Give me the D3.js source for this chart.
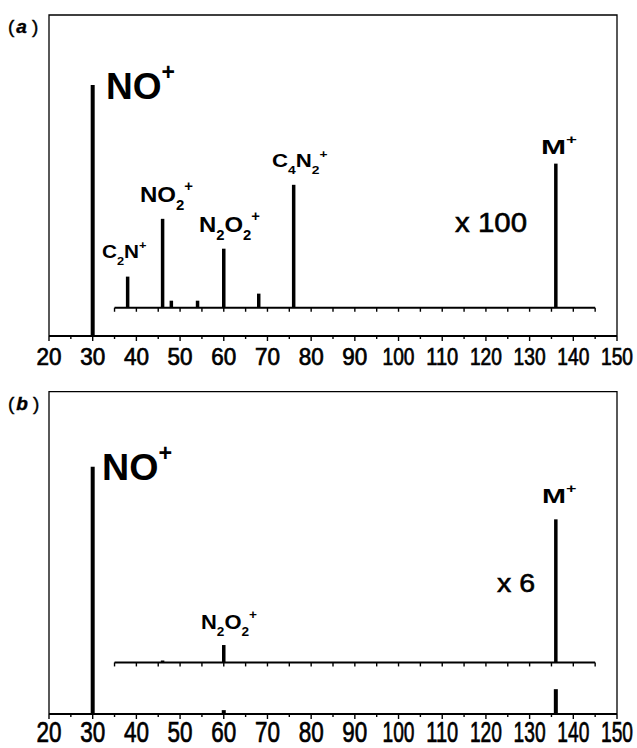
<!DOCTYPE html>
<html>
<head>
<meta charset="utf-8">
<script src="https://cdn.jsdelivr.net/npm/d3@7"></script>
<style>
body { margin: 0; background: #fff; }
text { font-family: "Liberation Sans", Arial, sans-serif; fill: #000; }
</style>
</head>
<body>
<div id="chart"></div>
<script>
// m/z axis
var xTicks = [20, 30, 40, 50, 60, 70, 80, 90, 100, 110, 120, 130, 140, 150];
var xMinor = d3.range(20, 151, 5);
var insetTicks = d3.range(35, 146, 5);

// panel (a) – full scale and x100 trace
var mainMzA = [30];
var mainIntA = [78.2];
var insetMzA = [38, 46, 48, 54, 60, 68, 76, 136];
var insetIntA = [9.7, 27.7, 2.2, 2.2, 18.4, 4.4, 38.3, 44.9];
var insetBaseA = 8.8;

// panel (b) – full scale and x6 trace
var mainMzB = [30, 60, 136];
var mainIntB = [76.7, 1.2, 7.7];
var insetMzB = [46, 60, 136];
var insetIntB = [0.6, 5.4, 44.4];
var insetBaseB = 16.0;

var labelsA = ["NO^+", "C_2N^+", "NO_2^+", "N_2O_2^+", "C_4N_2^+", "M^+", "x 100"];
var labelsB = ["NO^+", "N_2O_2^+", "M^+", "x 6"];

var W = 637, H = 748;
var svg = d3.select("#chart").append("svg").attr("width", W).attr("height", H);

// draws a string like "N_2O_2^+" from x0 to x1 with given baseline and cap height
function label(g, str, x0, x1, base, cap, bold) {
    var fs = cap / 0.716;
    var grp = g.append("g");
    var t = grp.append("text")
        .style("font-size", fs + "px")
        .style("font-weight", bold ? "bold" : "normal");
    if (!bold) t.attr("stroke", "#000").attr("stroke-width", 0.6);
    var shift = 0;
    for (var i = 0; i < str.length; i++) {
        var c = str[i], want = 0, small = false;
        if ((c === "_" || c === "^") && i + 1 < str.length) {
            want = c === "^" ? -0.5 * fs : 0.36 * fs;
            small = true;
            c = str[++i];
        }
        t.append("tspan")
            .attr("dy", want - shift)
            .style("font-size", small ? (0.62 * fs) + "px" : null)
            .text(c);
        shift = want;
    }
    var bb = t.node().getBBox();
    var sx = (x1 - x0) / bb.width;
    grp.attr("transform", "translate(" + (x0 - bb.x * sx) + "," + base + ") scale(" + sx + ",1)");
}

function tickLabel(g, txt, cx, base, cap) {
    var fs = cap / 0.716;
    var grp = g.append("g");
    var t = grp.append("text").attr("text-anchor", "middle")
        .attr("stroke", "#000").attr("stroke-width", 0.7)
        .style("font-size", fs + "px").text(txt);
    var want = txt.length === 3 ? 32 : 25;
    var sx = want / t.node().getComputedTextLength();
    grp.attr("transform", "translate(" + cx + "," + base + ") scale(" + sx + ",1)");
}

function drawPanel(p) {
    var g = svg.append("g");
    var x = d3.scaleLinear().domain([20, 150]).range([49, 617]);
    var y = d3.scaleLinear().domain([0, 100]).range([p.bottom, p.top]);

    // frame
    g.append("path")
        .attr("d", "M" + x(20) + "," + y(0) + "V" + y(100) + "H" + x(150) + "V" + y(0))
        .attr("fill", "none").attr("stroke", "#000").attr("stroke-width", 1.3);

    // main axis
    g.append("line").attr("x1", x(20)).attr("x2", x(150))
        .attr("y1", y(0)).attr("y2", y(0))
        .attr("stroke", "#000").attr("stroke-width", 2);
    g.selectAll(".mt").data(xMinor).enter().append("line")
        .attr("x1", d => x(d)).attr("x2", d => x(d))
        .attr("y1", y(0)).attr("y2", d => y(0) + (d % 10 === 0 ? 5 : 3))
        .attr("stroke", "#000").attr("stroke-width", 1.4);
    xTicks.forEach(function (v) {
        tickLabel(g, String(v), x(v), p.tickBase, p.tickCap);
    });

    // inset axis
    var yb = y(p.insetBase);
    g.append("line").attr("x1", x(35)).attr("x2", x(145))
        .attr("y1", yb).attr("y2", yb)
        .attr("stroke", "#000").attr("stroke-width", 2);
    g.selectAll(".it").data(insetTicks).enter().append("line")
        .attr("x1", d => x(d)).attr("x2", d => x(d))
        .attr("y1", yb).attr("y2", yb + 4)
        .attr("stroke", "#000").attr("stroke-width", 1.4);

    // peaks
    g.selectAll(".mp").data(p.mainMz).enter().append("line")
        .attr("x1", d => x(d)).attr("x2", d => x(d))
        .attr("y1", y(0)).attr("y2", (d, i) => y(p.mainInt[i]))
        .attr("stroke", "#000").attr("stroke-width", 4);
    g.selectAll(".ip").data(p.insetMz).enter().append("line")
        .attr("x1", d => x(d)).attr("x2", d => x(d))
        .attr("y1", yb).attr("y2", (d, i) => y(p.insetBase + p.insetInt[i]))
        .attr("stroke", "#000").attr("stroke-width", 3.5);

    // annotations
    p.ann.forEach(function (a, i) {
        label(g, p.labels[i], a[0], a[1], a[2], a[3], a[4]);
    });

    // panel letter
    var pl = g.append("text").attr("x", 8).attr("y", p.top + 18)
        .attr("stroke", "#000").attr("stroke-width", 0.4)
        .style("font-size", "19px");
    pl.append("tspan").text("(");
    pl.append("tspan").attr("dx", 2).style("font-style", "italic").style("font-weight", "bold").text(p.letter);
    pl.append("tspan").attr("dx", 5).text(")");
}

drawPanel({
    top: 15, bottom: 336, tickBase: 365, tickCap: 16.7, letter: "a",
    mainMz: mainMzA, mainInt: mainIntA,
    insetMz: insetMzA, insetInt: insetIntA, insetBase: insetBaseA,
    labels: labelsA,
    ann: [
        [106, 175, 99, 27, true],
        [102, 147, 258, 13, true],
        [140, 193, 201.7, 16, true],
        [199, 260, 231.7, 16, true],
        [272, 328, 167, 13, true],
        [541, 577, 154, 14, true],
        [455, 527, 232, 20, false]
    ]
});

drawPanel({
    top: 391.7, bottom: 714, tickBase: 742, tickCap: 21, letter: "b",
    mainMz: mainMzB, mainInt: mainIntB,
    insetMz: insetMzB, insetInt: insetIntB, insetBase: insetBaseB,
    labels: labelsB,
    ann: [
        [102, 172, 480, 27, true],
        [201, 257, 629, 14, true],
        [542, 577, 503, 15, true],
        [497, 535, 592, 19, false]
    ]
});
</script>
</body>
</html>
